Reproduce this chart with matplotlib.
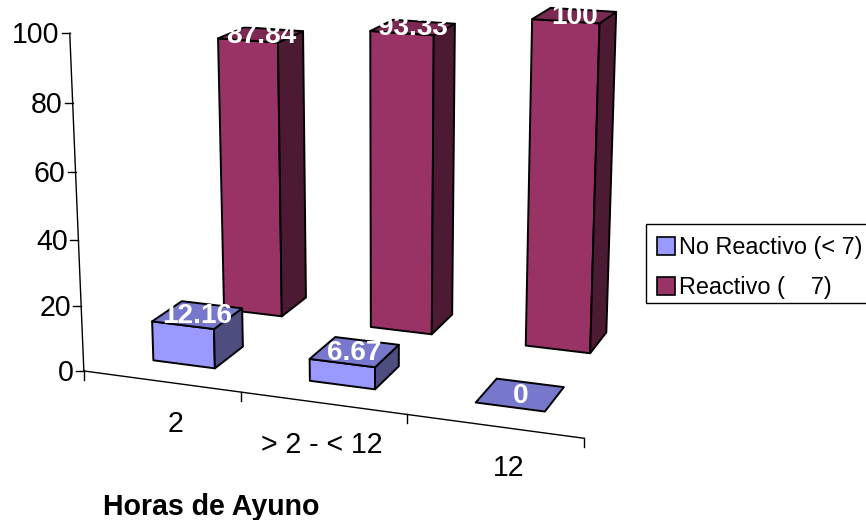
import numpy as np
import matplotlib
matplotlib.use('Agg')
import matplotlib.pyplot as plt
from matplotlib.patches import Polygon, Rectangle

categories = ['2', '> 2 - < 12', '12']
series_names = ['No Reactivo (< 7)', 'Reactivo (    7)']
no_reactivo = [12.16, 6.67, 0]
reactivo = [87.84, 93.33, 100]
value_ticks = [0, 20, 40, 60, 80, 100]
x_title = 'Horas de Ayuno'

# Perspective camera for the 3-D column view:
# rotation, elevation, eye distance, focal length, image centre,
# value-axis height per unit and depth per series slot.
CAM_ROT = 0.34978
CAM_ELEV = 0.26219
CAM_DIST = 11.712
CAM_FOCAL = 1980.2
CAM_CX, CAM_CY = 384.42, 186.36
VALUE_SCALE = 0.019994
DEPTH_SCALE = 1.0057


def proj(X, V, Z):
    """Map (category position, value, series depth) to figure pixels."""
    x0 = X - 1.5
    y0 = (V - 50.0) * VALUE_SCALE
    z0 = (Z - 1.0) * DEPTH_SCALE
    x1 = x0 * np.cos(CAM_ROT) + z0 * np.sin(CAM_ROT)
    z1 = -x0 * np.sin(CAM_ROT) + z0 * np.cos(CAM_ROT)
    y2 = y0 * np.cos(CAM_ELEV) + z1 * np.sin(CAM_ELEV)
    z2 = -y0 * np.sin(CAM_ELEV) + z1 * np.cos(CAM_ELEV)
    d = CAM_DIST + z2
    return CAM_CX + CAM_FOCAL * x1 / d, CAM_CY - CAM_FOCAL * y2 / d


W_PX, H_PX, DPI = 866, 520, 100
fig = plt.figure(figsize=(W_PX / DPI, H_PX / DPI), dpi=DPI)
ax = fig.add_axes([0, 0, 1, 1])
ax.set_xlim(0, W_PX)
ax.set_ylim(H_PX, 0)
ax.axis('off')

FONT = 'Liberation Sans'
px2pt = 72.0 / DPI
base_px = 28.5
label_px = 28.0
legend_px = 23.5

colors = [
    dict(front='#9999FF', top='#7777CC', side='#4D4D80'),
    dict(front='#993366', top='#7A2952', side='#4C1A33'),
]
BAR_LO, BAR_HI = 0.3, 0.7   # 150 % gap width / gap depth
EDGE_LW = 1.4


def bar(i, row, val):
    col = colors[row]
    X0, X1 = i + BAR_LO, i + BAR_HI
    Z0, Z1 = row + BAR_LO, row + BAR_HI
    faces = []
    if val > 0:
        faces.append(([(X0, 0, Z0), (X1, 0, Z0), (X1, val, Z0), (X0, val, Z0)], col['front']))
        faces.append(([(X1, 0, Z0), (X1, 0, Z1), (X1, val, Z1), (X1, val, Z0)], col['side']))
    faces.append(([(X0, val, Z0), (X1, val, Z0), (X1, val, Z1), (X0, val, Z1)], col['top']))
    for pts, fc in faces:
        xy = [proj(*q) for q in pts]
        ax.add_patch(Polygon(xy, closed=True, facecolor=fc, edgecolor='black',
                             lw=EDGE_LW, joinstyle='round'))
    corners = [proj(X, val, Z) for X in (X0, X1) for Z in (Z0, Z1)]
    cx = np.mean([c[0] for c in corners])
    cy = np.mean([c[1] for c in corners])
    ax.text(cx, cy - 2 + 0.358 * label_px, '%g' % val, ha='center', va='baseline',
            color='white', fontsize=label_px * px2pt, fontweight='bold', family=FONT)


# value axis and floor edge
x0, y0 = proj(0, 0, 0)
x1, y1 = proj(0, value_ticks[-1], 0)
ax.plot([x0, x1], [y0, y1], color='black', lw=1.0)
x3, y3 = proj(len(categories), 0, 0)
ax.plot([x0, x3], [y0, y3], color='black', lw=1.0)

for t in value_ticks:
    tx, ty = proj(0, t, 0)
    ax.plot([tx - 8, tx], [ty, ty], color='black', lw=1.0)
    ax.text(tx - 10, ty + 0.358 * base_px, str(t), ha='right', va='baseline',
            fontsize=base_px * px2pt, family=FONT)

for k in range(len(categories) + 1):
    tx, ty = proj(k, 0, 0)
    ax.plot([tx, tx], [ty, ty + 9], color='black', lw=1.0)

label_dx = [14, -1, 14]
for k, name in enumerate(categories):
    tx, ty = proj(k + 0.5, 0, 0)
    ax.text(tx + label_dx[k], ty + 40 + 0.358 * base_px, name, ha='center', va='baseline',
            fontsize=base_px * px2pt, family=FONT)

# back row first, then the front row
for i, v in enumerate(reactivo):
    bar(i, 1, v)
for i, v in enumerate(no_reactivo):
    bar(i, 0, v)

ax.text(103, 505 + 0.358 * base_px, x_title, ha='left', va='baseline',
        fontsize=base_px * px2pt, fontweight='bold', family=FONT)

# legend
ax.add_patch(Rectangle((646, 224), 240, 79, facecolor='white', edgecolor='black', lw=1.0))
for k, name in enumerate(series_names):
    yc = 246 + k * 40
    ax.add_patch(Rectangle((657, yc - 9), 18, 18, facecolor=colors[k]['front'],
                           edgecolor='black', lw=1.2))
    ax.text(679, yc + 0.358 * legend_px, name, ha='left', va='baseline',
            fontsize=legend_px * px2pt, family=FONT)

fig.savefig('out.png', dpi=DPI)
